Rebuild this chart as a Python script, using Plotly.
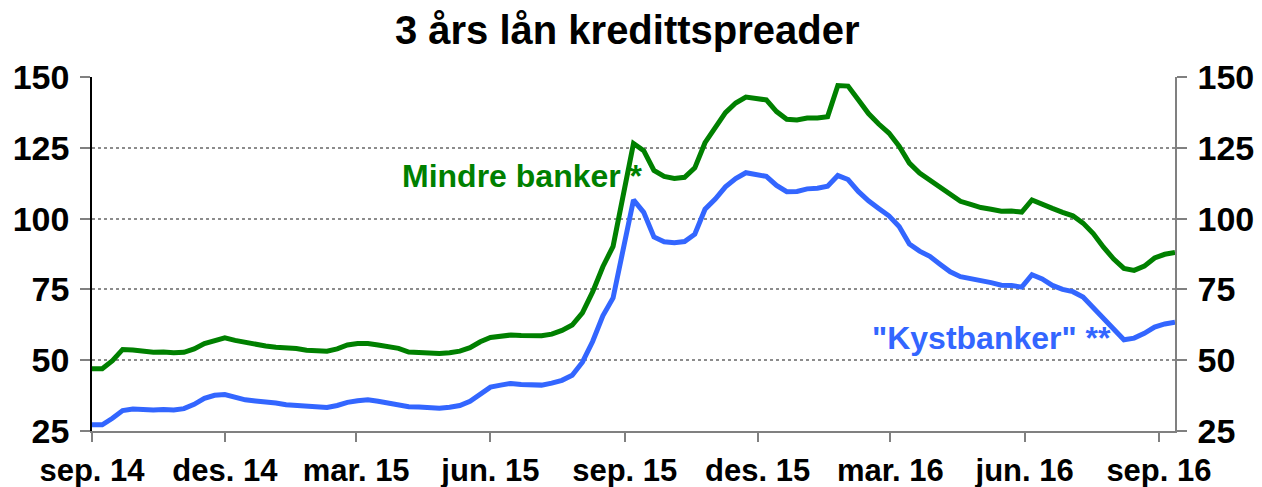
import pandas as pd
import plotly.graph_objects as go

# Weekly observations, Sep 2014 - Sep 2016 (basis points)
mindre_banker = [
    47.0, 47.0, 49.8, 53.8, 53.6, 53.0, 52.8, 52.9, 52.6, 52.8,
    54.0, 55.9, 57.1, 57.9, 57.0, 56.2, 55.5, 55.0, 54.6, 54.4,
    54.1, 53.5, 53.2, 53.2, 54.0, 55.4, 55.9, 55.9, 55.4, 54.7,
    54.2, 52.9, 52.6, 52.5, 52.4, 52.6, 53.2, 54.4, 56.5, 58.0,
    58.6, 58.9, 58.7, 58.6, 58.6, 59.2, 60.5, 62.4, 66.7, 74.1,
    83.0, 90.2, 107.8, 126.5, 124.0, 117.0, 114.9, 114.2, 114.6, 117.9,
    126.8, 132.0, 137.4, 140.8, 142.9, 142.4, 141.9, 137.8, 135.1, 134.8,
    135.5, 135.5, 136.0, 147.0, 146.8, 142.0, 137.1, 133.4, 130.2, 125.6,
    119.6, 116.1, 113.5, 110.9, 108.3, 106.1, 105.0, 103.9, 103.3, 102.6,
    102.7, 102.3, 106.6, 105.3, 103.6, 102.2, 101.0, 98.4, 94.7, 89.9,
    85.7, 82.4, 81.7, 83.2, 86.1, 87.4, 88.0,
]
kystbanker = [
    27.2, 27.2, 29.5, 32.2, 32.8, 32.4, 32.4, 32.6, 32.4, 32.9,
    34.4, 36.5, 37.6, 37.9, 36.9, 36.0, 35.6, 35.4, 34.9, 34.3,
    34.1, 33.6, 33.3, 33.3, 34.0, 35.1, 35.7, 36.0, 35.5, 34.8,
    34.3, 33.6, 33.5, 33.1, 33.0, 33.4, 34.0, 35.5, 38.1, 40.5,
    41.2, 41.8, 41.4, 41.1, 41.2, 41.9, 42.9, 44.7, 49.3, 56.6,
    65.7, 72.0, 90.1, 106.6, 102.2, 93.5, 91.8, 91.5, 91.9, 94.5,
    103.3, 106.9, 111.2, 114.1, 116.2, 115.7, 114.9, 111.7, 109.5, 109.6,
    110.5, 110.7, 111.4, 115.2, 113.8, 109.6, 106.3, 103.6, 101.0, 97.2,
    91.0, 88.5, 86.7, 83.9, 81.2, 79.5, 78.9, 78.0, 77.4, 76.5,
    76.4, 75.8, 80.2, 78.7, 76.4, 75.0, 74.2, 72.3, 68.5, 64.5,
    60.5, 57.2, 57.8, 59.5, 61.7, 62.8, 63.4,
]
dates = pd.date_range("2014-09-01", periods=len(mindre_banker), freq="7D")

tick_dates = ["2014-09-01", "2014-12-01", "2015-03-01", "2015-06-01", "2015-09-01",
              "2015-12-01", "2016-03-01", "2016-06-01", "2016-09-01"]
tick_labels = ["sep. 14", "des. 14", "mar. 15", "jun. 15", "sep. 15",
               "des. 15", "mar. 16", "jun. 16", "sep. 16"]
y_ticks = [25, 50, 75, 100, 125, 150]

GREEN = "#008000"
BLUE = "#3366FF"
FONT = "Liberation Sans, Arial, sans-serif"
XTICKFONT = dict(family=FONT, size=31, color="black", weight="bold")
YTICKFONT = dict(family=FONT, size=34, color="black", weight="bold")

fig = go.Figure()
fig.add_trace(go.Scatter(x=dates, y=mindre_banker, mode="lines",
                         line=dict(color=GREEN, width=5), name="Mindre banker *"))
fig.add_trace(go.Scatter(x=dates, y=kystbanker, mode="lines",
                         line=dict(color=BLUE, width=5), name='"Kystbanker" **'))
# helper trace so the mirrored right-hand axis is drawn (invisible)
fig.add_trace(go.Scatter(x=dates, y=mindre_banker, mode="lines", yaxis="y2",
                         line=dict(color="rgba(0,0,0,0)", width=0),
                         hoverinfo="skip", showlegend=False))

fig.add_annotation(x="2015-06-23", y=115, text="<b>Mindre banker *</b>", showarrow=False,
                   font=dict(family=FONT, size=32, color=GREEN), xanchor="center", yanchor="middle")
fig.add_annotation(x="2016-05-09", y=58, text='<b>"Kystbanker" **</b>', showarrow=False,
                   font=dict(family=FONT, size=32, color=BLUE), xanchor="center", yanchor="middle")

fig.update_layout(
    width=1262, height=487,
    margin=dict(l=92, r=87, t=77, b=56, autoexpand=False),
    paper_bgcolor="white", plot_bgcolor="white",
    showlegend=False,
    font=dict(family=FONT, color="black"),
    title=dict(text="<b>3 års lån kredittspreader</b>", x=0.497, xanchor="center",
               y=1 - 30 / 487, yanchor="middle", yref="container",
               font=dict(family=FONT, size=40, color="black")),
    xaxis=dict(type="date", range=[dates[0], dates[-1]],
               tickvals=tick_dates, ticktext=tick_labels,
               ticks="outside", ticklen=9, tickwidth=1.5, tickcolor="#808080",
               showline=True, linecolor="#808080", linewidth=2,
               showgrid=False, zeroline=False, automargin=False,
               tickfont=XTICKFONT, ticklabelstandoff=2),
    yaxis=dict(range=[25, 150], tickvals=y_ticks,
               ticks="outside", ticklen=10, tickwidth=1.5, tickcolor="#808080",
               showline=True, linecolor="black", linewidth=1.5,
               showgrid=True, gridcolor="#8c8c8c", gridwidth=1.5, griddash="dot",
               zeroline=False, automargin=False,
               tickfont=YTICKFONT, ticklabelstandoff=4),
    yaxis2=dict(range=[25, 150], tickvals=y_ticks, overlaying="y", side="right",
                ticks="outside", ticklen=10, tickwidth=1.5, tickcolor="#808080",
                showline=True, linecolor="#808080", linewidth=1.5,
                showgrid=False, zeroline=False, automargin=False,
                tickfont=YTICKFONT, ticklabelstandoff=4),
)

fig.write_html("out.html", config={"displayModeBar": False},
               post_script="document.body.style.margin='0';")
